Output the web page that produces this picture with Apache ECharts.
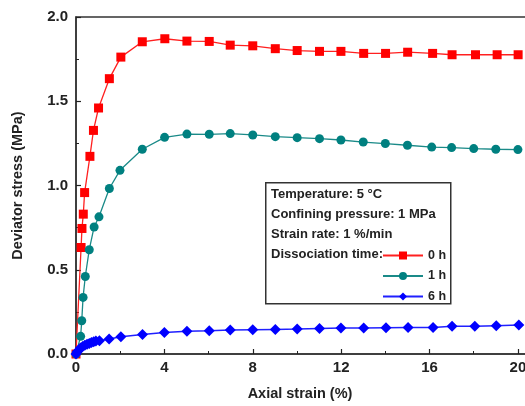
<!DOCTYPE html>
<html>
<head>
<meta charset="utf-8">
<script src="https://cdn.jsdelivr.net/npm/echarts@6/dist/echarts.min.js"></script>
<style>html,body{margin:0;padding:0;background:#fff;overflow:hidden;width:525px;height:406px}#c{width:540px;height:406px}</style>
</head>
<body>
<div id="c"></div>
<script>
const xTicks = [0, 4, 8, 12, 16, 20];
const yTicks = [0.0, 0.5, 1.0, 1.5, 2.0];
const seriesNames = ['0 h', '1 h', '6 h'];
const infoLines = ['Temperature: 5 °C', 'Confining pressure: 1 MPa', 'Strain rate: 1 %/min', 'Dissociation time:'];

const strain0h = [0, 0.23, 0.27, 0.33, 0.39, 0.63, 0.79, 1.02, 1.51, 2.03, 3.0, 4.02, 5.02, 6.03, 6.98, 8.0, 9.02, 10.01, 11.02, 11.99, 13.02, 14.01, 15.01, 16.14, 17.02, 18.08, 19.06, 20.01];
const stress0h = [0, 0.632, 0.745, 0.83, 0.958, 1.173, 1.327, 1.46, 1.634, 1.762, 1.853, 1.871, 1.857, 1.855, 1.833, 1.829, 1.812, 1.801, 1.796, 1.796, 1.784, 1.784, 1.791, 1.784, 1.776, 1.776, 1.776, 1.776];

const strain1h = [0, 0.21, 0.26, 0.32, 0.42, 0.6, 0.82, 1.04, 1.51, 1.99, 3.0, 4.01, 5.02, 6.03, 6.98, 8.0, 9.02, 10.01, 11.02, 11.99, 13.0, 14.0, 15.0, 16.1, 17.0, 18.0, 19.0, 20.0];
const stress1h = [0, 0.105, 0.197, 0.336, 0.46, 0.619, 0.754, 0.814, 0.982, 1.09, 1.215, 1.286, 1.305, 1.304, 1.308, 1.3, 1.29, 1.284, 1.278, 1.27, 1.258, 1.249, 1.239, 1.228, 1.225, 1.219, 1.215, 1.213];

const strain6h = [0, 0.05, 0.1, 0.2, 0.3, 0.4, 0.5, 0.6, 0.7, 0.8, 0.9, 1.06, 1.5, 2.03, 3.01, 4.0, 5.02, 6.03, 6.98, 8.0, 9.02, 10.01, 11.02, 11.99, 13.02, 14.03, 15.03, 16.16, 17.02, 18.05, 19.02, 20.04];
const stress6h = [0, 0.012, 0.02, 0.035, 0.045, 0.052, 0.058, 0.063, 0.068, 0.073, 0.077, 0.079, 0.089, 0.103, 0.116, 0.127, 0.135, 0.138, 0.142, 0.144, 0.146, 0.148, 0.152, 0.155, 0.154, 0.156, 0.158, 0.158, 0.164, 0.164, 0.168, 0.172];

const zip = (a, b) => a.map((v, i) => [v, b[i]]);
const FONT = '"Liberation Sans", Arial, sans-serif';

const chart = echarts.init(document.getElementById('c'), null, {renderer: 'canvas'});
chart.setOption({
  animation: false,
  backgroundColor: '#fff',
  grid: {left: 76, top: 17, bottom: 51, right: 0, show: true, borderColor: '#333', borderWidth: 1.5, containLabel: false},
  xAxis: {
    type: 'value', min: 0, max: 21, interval: 4,
    name: 'Axial strain (%)', nameLocation: 'middle', nameGap: 32,
    nameTextStyle: {fontFamily: FONT, fontWeight: 'bold', fontSize: 14.5, color: '#222', padding: [0, 16, 0, 0]},
    axisLine: {lineStyle: {color: '#333', width: 1.5}},
    axisTick: {inside: true, length: 5, lineStyle: {color: '#222', width: 1.2}},
    minorTick: {show: true, splitNumber: 2, length: 3, lineStyle: {color: '#222', width: 1}},
    axisLabel: {fontFamily: FONT, fontWeight: 'bold', fontSize: 15, color: '#222', margin: 6, showMaxLabel: false,
      formatter: v => xTicks.includes(v) ? String(v) : ''},
    splitLine: {show: false}
  },
  yAxis: {
    type: 'value', min: 0, max: 2, interval: 0.5,
    name: 'Deviator stress (MPa)', nameLocation: 'middle', nameGap: 51,
    nameTextStyle: {fontFamily: FONT, fontWeight: 'bold', fontSize: 14.5, color: '#222'},
    axisLine: {lineStyle: {color: '#333', width: 1.5}},
    axisTick: {inside: true, length: 5, lineStyle: {color: '#222', width: 1.2}},
    minorTick: {show: true, splitNumber: 2, length: 3, lineStyle: {color: '#222', width: 1}},
    axisLabel: {fontFamily: FONT, fontWeight: 'bold', fontSize: 15, color: '#222', margin: 8,
      formatter: v => { const t = yTicks.find(y => Math.abs(y - v) < 1e-9); return t === undefined ? '' : t.toFixed(1); }},
    splitLine: {show: false}
  },
  legend: {
    orient: 'vertical', left: 377, top: 244, itemWidth: 40, itemHeight: 10, itemGap: 7.5,
    textStyle: {fontFamily: FONT, fontWeight: 'bold', fontSize: 12.5, lineHeight: 12, color: '#222'},
    data: seriesNames
  },
  graphic: [
    {type: 'rect', left: 265, top: 182, z: 0, shape: {width: 185, height: 121}, style: {fill: '#fff', stroke: '#333', lineWidth: 1.5}},
    ...infoLines.map((t, i) => ({type: 'text', left: 271, top: 187.5 + i * 20, z: 1,
      style: {text: t, font: 'bold 13px ' + FONT, fill: '#222'}}))
  ],
  series: [
    {name: seriesNames[0], type: 'line', data: zip(strain0h, stress0h), symbol: 'rect', symbolSize: 9,
      itemStyle: {color: '#ff0000'}, lineStyle: {color: '#ff2020', width: 1.3}, z: 3},
    {name: seriesNames[1], type: 'line', data: zip(strain1h, stress1h), symbol: 'circle', symbolSize: 9,
      itemStyle: {color: '#008080'}, lineStyle: {color: '#1a8a88', width: 1.3}, z: 3},
    {name: seriesNames[2], type: 'line', data: zip(strain6h, stress6h), symbol: 'diamond', symbolSize: 11,
      itemStyle: {color: '#0000ff'}, lineStyle: {color: '#2020ff', width: 1.5}, z: 3}
  ]
});
</script>
</body>
</html>
